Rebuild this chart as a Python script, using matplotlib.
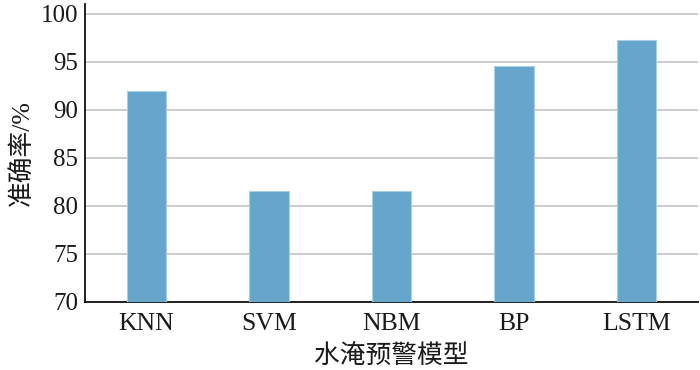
import matplotlib
matplotlib.use("Agg")
import matplotlib.pyplot as plt

models = ["KNN", "SVM", "NBM", "BP", "LSTM"]
accuracy = [92.0, 81.5, 81.5, 94.6, 97.3]
yticks = [70, 75, 80, 85, 90, 95, 100]

plt.rcParams['font.family'] = ['Liberation Serif', 'Noto Sans CJK SC']

fig = plt.figure(figsize=(7, 3.7), dpi=100)
ax = fig.add_axes([85/700, 68/370, 613/700, 298/370])

x = list(range(len(models)))
ax.bar(x, accuracy, width=0.32, bottom=0, color='#66a6cc', edgecolor='#a9cfe6', linewidth=0.8, zorder=3)
ax.set_xlim(-0.5, 4.5)
ax.set_ylim(70, 101)
ax.set_yticks(yticks)
ax.set_xticks(x)
ax.set_xticklabels(models)
ax.yaxis.grid(True, color='#c4c4c4', linewidth=1.2, zorder=0)
ax.set_axisbelow(True)
for s in ['top', 'right']:
    ax.spines[s].set_visible(False)
for s in ['left', 'bottom']:
    ax.spines[s].set_linewidth(1.3)
    ax.spines[s].set_color('#111111')
ax.tick_params(axis='y', length=0, labelsize=18, colors='#1a1a1a', pad=5)
ax.tick_params(axis='x', length=0, labelsize=18.5, colors='#1a1a1a', pad=8)
ax.set_xlabel('水淹预警模型', fontsize=18.5, family=['Noto Sans CJK SC'], labelpad=6, color='#1a1a1a')
ax.set_ylabel('准确率/%', fontsize=18.5, family=['Liberation Serif', 'Noto Sans CJK SC'], labelpad=4, color='#1a1a1a')

fig.savefig('out.png', dpi=100)
